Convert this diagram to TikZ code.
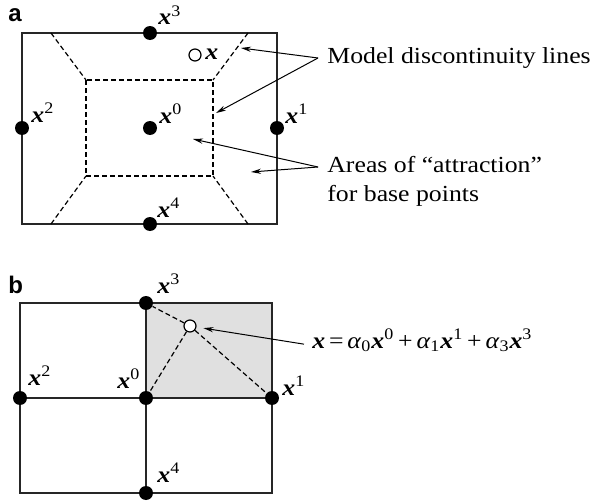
\documentclass[tikz,border=0pt]{standalone}
\usepackage{fontspec}
\setmainfont[FakeStretch=1.12]{Liberation Serif}
\newfontfamily\panelfont{Liberation Sans}
\usetikzlibrary{arrows.meta}

\newcommand{\bx}{\textbf{\textit{x}}}
\newcommand{\bxs}[1]{\bx\textsuperscript{#1}}
\newcommand{\alf}[1]{\textit{α}\textsubscript{#1}}

\begin{document}
\begin{tikzpicture}[x=0.5pt,y=-0.5pt,
  base/.style={circle, fill=black, inner sep=0pt, minimum size=7pt},
  query/.style={circle, draw=black, fill=white, line width=0.6pt, inner sep=0pt, minimum size=6pt},
  lbl/.style={inner sep=0pt, font=\fontsize{11.5}{14.5}\selectfont},
  panel/.style={inner sep=0pt, font=\panelfont\bfseries\fontsize{12}{14}\selectfont},
  frame/.style={black!85, line width=0.7pt},
  border/.style={black, line width=0.6pt, dash pattern=on 2.5pt off 1.5pt},
  pointer/.style={-{Stealth[length=5pt,width=2.6pt]}, line width=0.5pt}]
\useasboundingbox (0,0) rectangle (596,503);

% panel a
\node[panel, anchor=base west] (pa) at (8,21) {a};
\draw[frame] (22,33) rectangle (277,224);
\draw[border] (86,80) rectangle (213,176);
\draw[border] (51,33) -- (86,80);
\draw[border] (248,33) -- (213,80);
\draw[border] (51,224) -- (86,176);
\draw[border] (248,224) -- (213,176);
\node[base] (a0) at (150,128) {};
\node[base] (a1) at (277,128) {};
\node[base] (a2) at (22,128) {};
\node[base] (a3) at (150,33) {};
\node[base] (a4) at (150,224) {};
\node[query] (aq) at (195,55) {};
\node[lbl, anchor=base west] (la0) at (159,123) {\bxs{0}};
\node[lbl, anchor=base west] (la1) at (285,123) {\bxs{1}};
\node[lbl, anchor=base west] (la2) at (31,122) {\bxs{2}};
\node[lbl, anchor=base west] (la3) at (158,25) {\bxs{3}};
\node[lbl, anchor=base west] (la4) at (157,217) {\bxs{4}};
\node[lbl, anchor=base west] (laq) at (205,60) {\bx};

\node[lbl, anchor=west, inner xsep=4.5pt] (model) at (318,58) {Model discontinuity lines};
\node[lbl, anchor=west, inner xsep=4.5pt, align=left] (areas) at (318,181) {Areas of “attraction”\\for base points};
\coordinate (m1) at (241,48);
\coordinate (m2) at (216,113);
\coordinate (r1) at (193,139);
\coordinate (r2) at (251,172);
\draw[pointer] (model.west) -- (m1);
\draw[pointer] (model.west) -- (m2);
\draw[pointer] ([yshift=7pt]areas.west) -- (r1);
\draw[pointer] ([yshift=7pt]areas.west) -- (r2);

% panel b
\node[panel, anchor=base west] (pb) at (8,293) {b};
\fill[black!12] (146,303) rectangle (272,398);
\draw[frame] (20,303) rectangle (272,493);
\draw[frame] (146,303) -- (146,493);
\draw[frame] (20,398) -- (272,398);
\node[base] (b0) at (146,398) {};
\node[base] (b1) at (272,398) {};
\node[base] (b2) at (20,398) {};
\node[base] (b3) at (146,303) {};
\node[base] (b4) at (146,493) {};
\node[query] (bq) at (190,326) {};
\draw[border] (bq) -- (b3);
\draw[border] (bq) -- (b0);
\draw[border] (bq) -- (b1);
\node[lbl, anchor=base west] (lb0) at (117,388) {\bxs{0}};
\node[lbl, anchor=base west] (lb1) at (282,395) {\bxs{1}};
\node[lbl, anchor=base west] (lb2) at (28,385) {\bxs{2}};
\node[lbl, anchor=base west] (lb3) at (157,293) {\bxs{3}};
\node[lbl, anchor=base west] (lb4) at (157,482) {\bxs{4}};

\node[lbl, anchor=base west, inner xsep=4pt] (eq) at (304,348)
  {\bx\,=\,\alf{0}\bxs{0}\,+\,\alf{1}\bxs{1}\,+\,\alf{3}\bxs{3}};
\draw[pointer, shorten >=3.5pt] ([yshift=-2pt]eq.west) -- (bq);
\end{tikzpicture}
\end{document}
